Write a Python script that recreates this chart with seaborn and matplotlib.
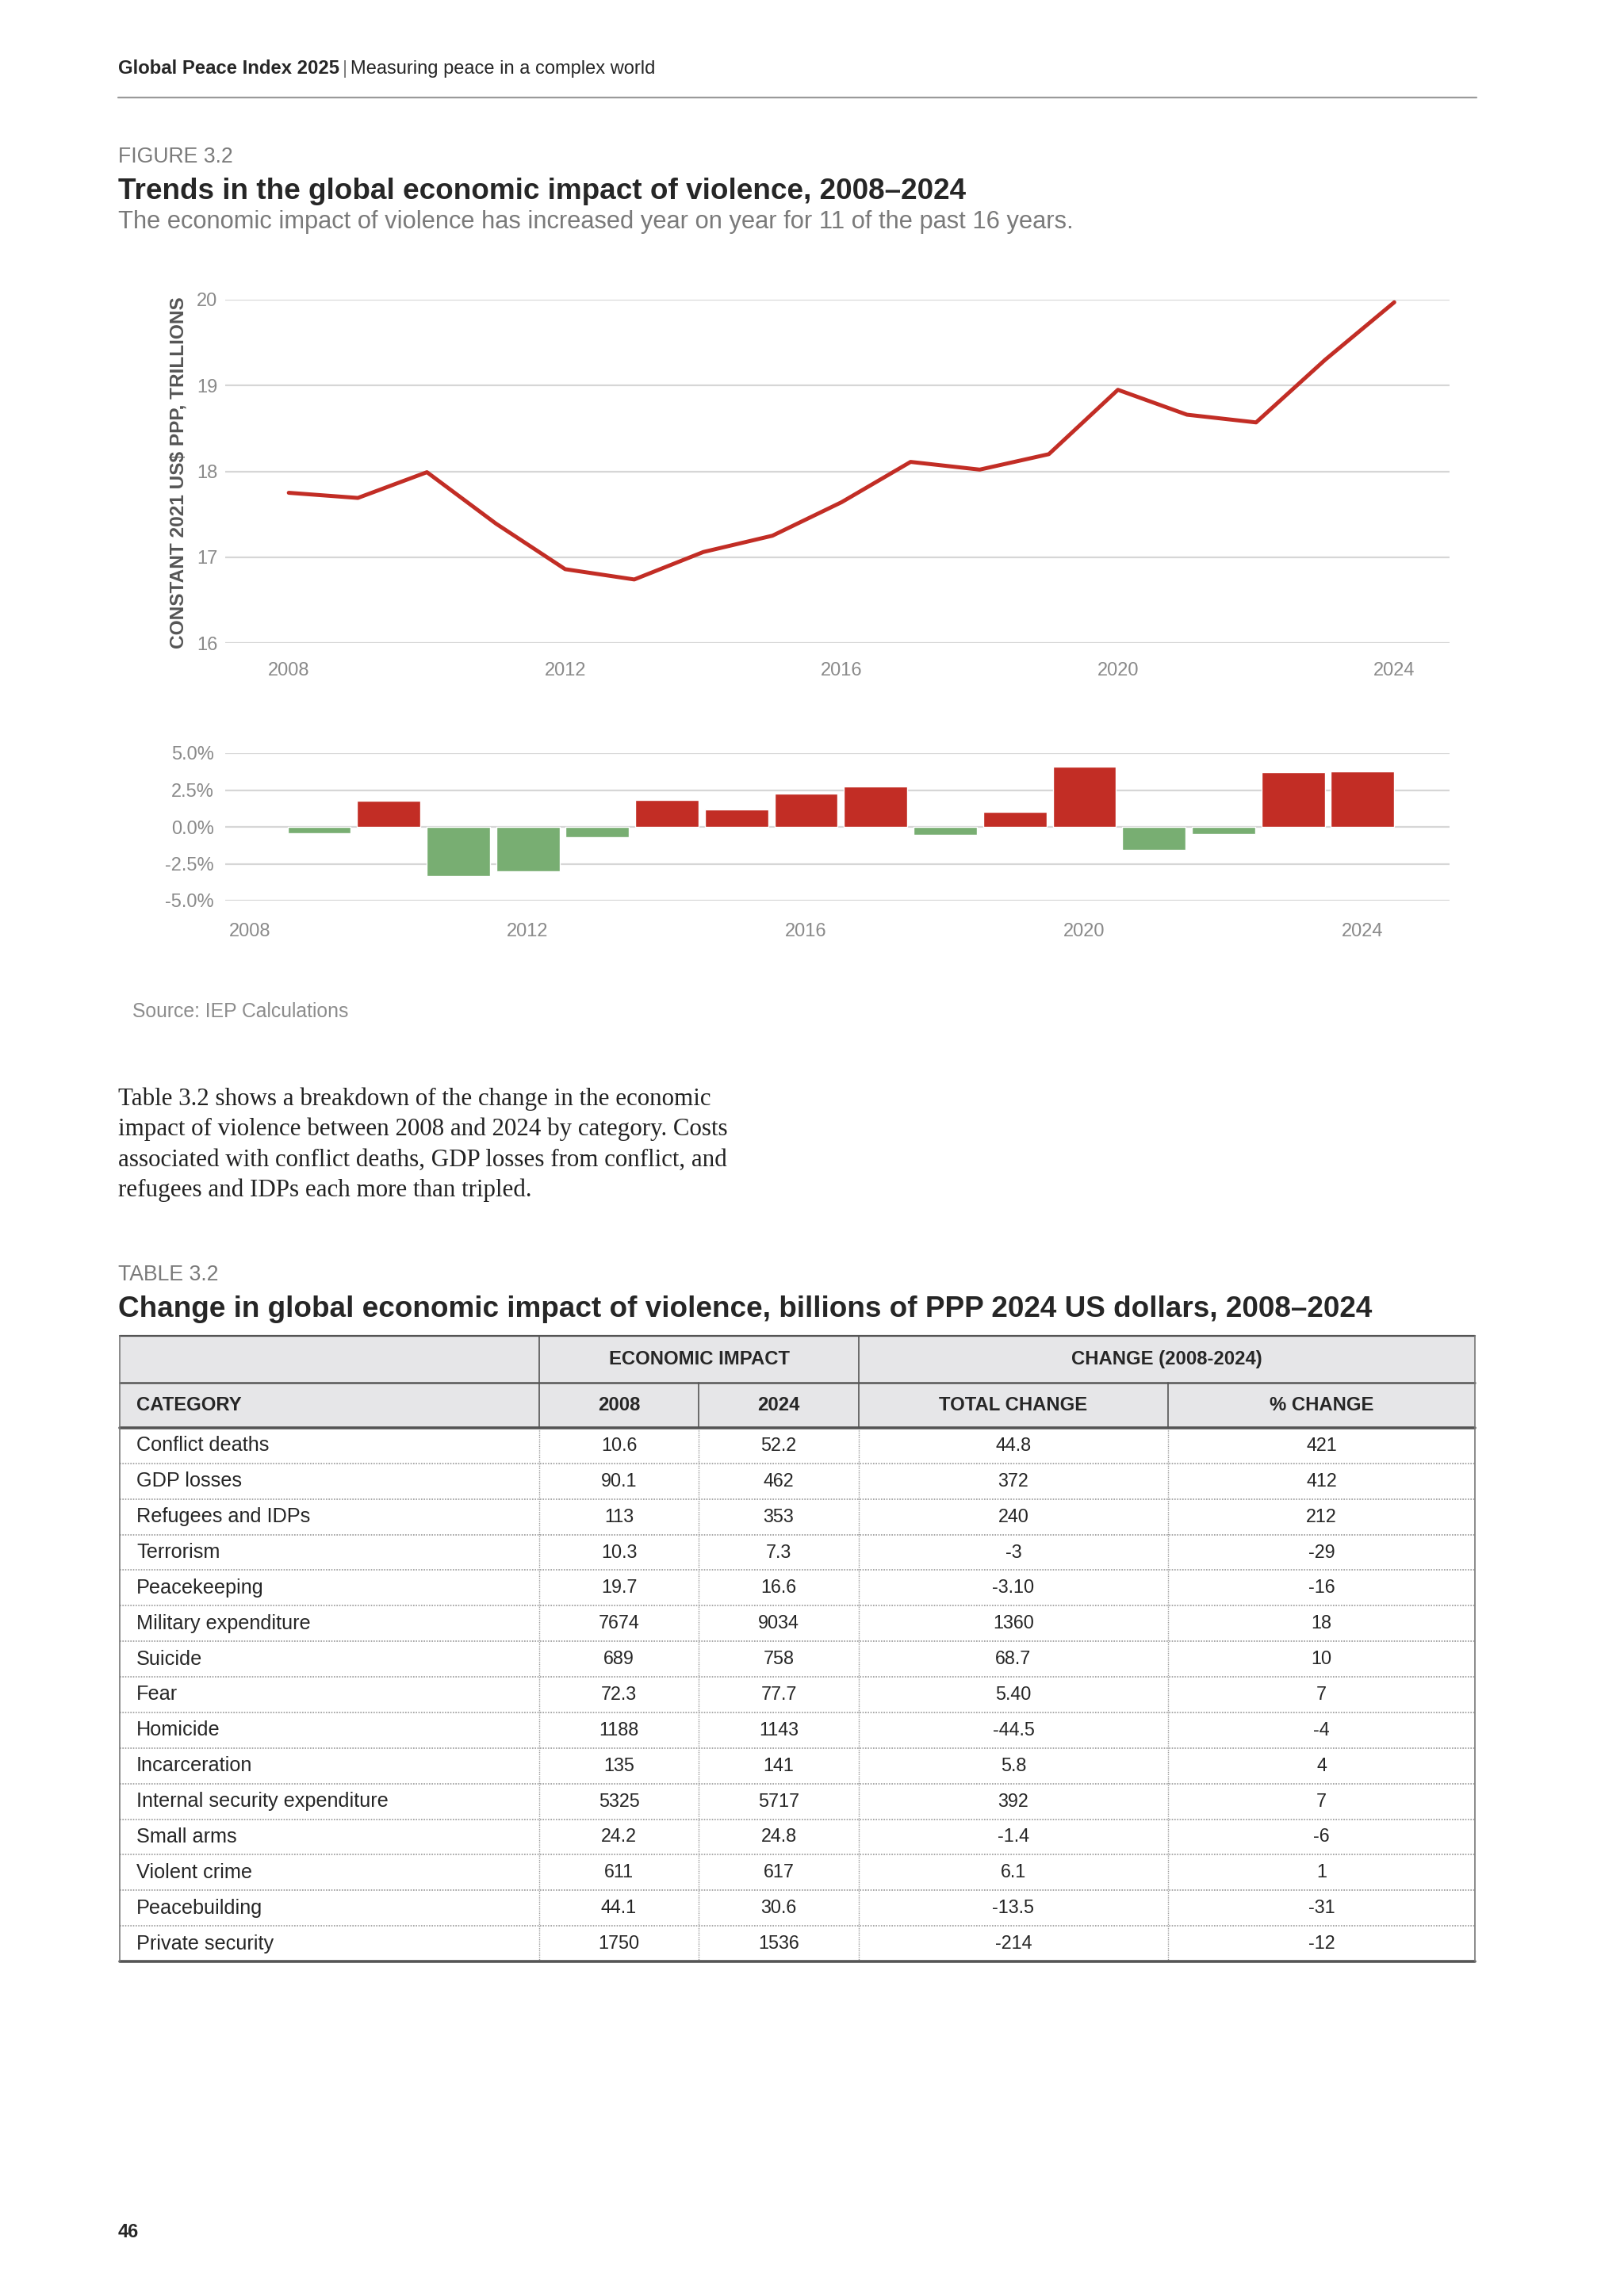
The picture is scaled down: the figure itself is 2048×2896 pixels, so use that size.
import matplotlib
matplotlib.use("Agg")
import matplotlib.pyplot as plt
from matplotlib.patches import Rectangle
import pandas as pd
import seaborn as sns

# line chart: economic impact of violence, constant 2021 US$ PPP trillions
years = list(range(2008, 2025))
impact_trillions = [17.75, 17.69, 17.99, 17.39, 16.86, 16.74, 17.06, 17.25, 17.64,
                    18.11, 18.02, 18.20, 18.95, 18.66, 18.57, 19.30, 19.97]

# bar chart: year on year change (%)
change_years = list(range(2009, 2025))
change_pct = [-0.43, 1.76, -3.35, -3.01, -0.72, 1.85, 1.18, 2.24, 2.72,
              -0.54, 1.04, 4.07, -1.56, -0.47, 3.69, 3.75]

line_yticks = [16, 17, 18, 19, 20]
bar_yticks = [-5, -2.5, 0, 2.5, 5]
bar_ylabels = ["-5.0%", "-2.5%", "0.0%", "2.5%", "5.0%"]
xtick_years = [2008, 2012, 2016, 2020, 2024]

# table 3.2
categories = ["Conflict deaths", "GDP losses", "Refugees and IDPs", "Terrorism",
              "Peacekeeping", "Military expenditure", "Suicide", "Fear", "Homicide",
              "Incarceration", "Internal security expenditure", "Small arms",
              "Violent crime", "Peacebuilding", "Private security"]
impact_2008 = ["10.6", "90.1", "113", "10.3", "19.7", "7674", "689", "72.3", "1188",
               "135", "5325", "24.2", "611", "44.1", "1750"]
impact_2024 = ["52.2", "462", "353", "7.3", "16.6", "9034", "758", "77.7", "1143",
               "141", "5717", "24.8", "617", "30.6", "1536"]
total_change = ["44.8", "372", "240", "-3", "-3.10", "1360", "68.7", "5.40", "-44.5",
                "5.8", "392", "-1.4", "6.1", "-13.5", "-214"]
pct_change = ["421", "412", "212", "-29", "-16", "18", "10", "7", "-4", "4", "7",
              "-6", "1", "-31", "-12"]

paragraph = ["Table 3.2 shows a breakdown of the change in the economic",
             "impact of violence between 2008 and 2024 by category. Costs",
             "associated with conflict deaths, GDP losses from conflict, and",
             "refugees and IDPs each more than tripled."]

RED = "#c22d25"
GREEN = "#78ae72"
GRID = "#d6d6d6"
TICK = "#8a8a8a"

sns.set_style("white")
plt.rcParams["font.family"] = ["Liberation Sans", "DejaVu Sans"]
plt.rcParams["axes.unicode_minus"] = False

W, H = 2048, 2896
fig = plt.figure(figsize=(W / 100, H / 100), dpi=100)


def box(x0, y0, x1, y1):
    # pixel box (top-left origin) -> figure fraction rect
    return [x0 / W, 1 - y1 / H, (x1 - x0) / W, (y1 - y0) / H]


# page overlay for text and the table
page = fig.add_axes([0, 0, 1, 1], zorder=0)
page.set_xlim(0, W)
page.set_ylim(H, 0)
page.axis("off")

# header
t = page.text(149, 93, "Global Peace Index 2025", fontsize=17.2, fontweight="bold", va="baseline")
fig.canvas.draw()
x_end = t.get_window_extent().x1
page.text(x_end + 4, 93, "|", fontsize=17, color="#777777", va="baseline")
page.text(x_end + 14, 93, "Measuring peace in a complex world", fontsize=17, va="baseline")
page.plot([149, 1862], [123, 123], color="#9a9a9a", lw=1.6)

page.text(149, 205, "FIGURE 3.2", fontsize=19.2, color="#7a7a7a", va="baseline")
page.text(149, 251, "Trends in the global economic impact of violence, 2008\u20132024",
          fontsize=26.6, fontweight="bold", va="baseline")
page.text(149, 288, "The economic impact of violence has increased year on year for 11 of the past 16 years.",
          fontsize=22.2, color="#7a7a7a", va="baseline")

# line chart
ax1 = fig.add_axes(box(284, 378, 1828, 811))
sns.lineplot(x=years, y=impact_trillions, color=RED, linewidth=3.6, ax=ax1)
ax1.set_xlim(2007.08, 2024.80)
ax1.set_ylim(16, 20)
ax1.set_yticks(line_yticks)
ax1.set_xticks(xtick_years)
ax1.yaxis.grid(True, color=GRID, lw=1.6)
ax1.xaxis.grid(False)
ax1.set_axisbelow(True)
sns.despine(ax=ax1, left=True, bottom=True)
ax1.tick_params(axis="y", length=0, pad=7, labelsize=17, labelcolor=TICK)
ax1.tick_params(axis="x", length=0, pad=17, labelsize=17, labelcolor=TICK)
ax1.set_xlabel("")
ax1.set_ylabel("")
ax1.patch.set_alpha(0)
fig.text(225 / W, 1 - 596 / H, "CONSTANT 2021 US$ PPP, TRILLIONS", rotation=90,
         fontsize=17.6, fontweight="bold", color="#555555", ha="center", va="center")

# bar chart
df = pd.DataFrame({"year": change_years, "change": change_pct})
df["direction"] = ["up" if v > 0 else "down" for v in df["change"]]
ax2 = fig.add_axes(box(284, 950, 1828, 1136))
sns.barplot(data=df, x="year", y="change", hue="direction",
            palette={"up": RED, "down": GREEN}, native_scale=True, dodge=False,
            width=0.91, saturation=1, legend=False, ax=ax2)
ax2.set_xlim(2007.65, 2025.25)
ax2.set_ylim(-5, 5)
ax2.set_yticks(bar_yticks)
ax2.set_yticklabels(bar_ylabels)
ax2.set_xticks(xtick_years)
ax2.set_xticklabels([str(y) for y in xtick_years])
ax2.yaxis.grid(True, color=GRID, lw=1.6)
ax2.xaxis.grid(False)
ax2.set_axisbelow(True)
sns.despine(ax=ax2, left=True, bottom=True)
ax2.tick_params(axis="y", length=0, pad=10, labelsize=17, labelcolor=TICK)
ax2.tick_params(axis="x", length=0, pad=20, labelsize=17, labelcolor=TICK)
ax2.set_xlabel("")
ax2.set_ylabel("")
ax2.patch.set_alpha(0)

page.text(167, 1276, "Source: IEP Calculations", fontsize=17.8, color="#8c8c8c", va="center")

# body paragraph
for i, line in enumerate(paragraph):
    page.text(149, 1394 + i * 38.2, line, fontsize=22.3, family=["Liberation Serif", "DejaVu Serif"],
              color="#222222", va="baseline")

page.text(149, 1615, "TABLE 3.2", fontsize=19.2, color="#7a7a7a", va="baseline")
page.text(149, 1661, "Change in global economic impact of violence, billions of PPP 2024 US dollars, 2008\u20132024",
          fontsize=26.6, fontweight="bold", va="baseline")

# table
cols = [151, 680, 881, 1083, 1473, 1860]
r0, r1, r2 = 1685, 1744, 1801
row_h = (2474 - r2) / len(categories)
r_end = r2 + row_h * len(categories)
page.add_patch(Rectangle((cols[0], r0), cols[-1] - cols[0], r2 - r0, facecolor="#e6e6e8",
                         edgecolor="none", zorder=0))
for y, lw in [(r0, 1.6), (r1, 1.8), (r2, 2.6), (r_end, 2.6)]:
    page.plot([cols[0], cols[-1]], [y, y], color="#555555", lw=lw, zorder=3)
for x in [cols[0], cols[-1]]:
    page.plot([x, x], [r0, r_end], color="#777777", lw=1.2, zorder=3)
for x in [cols[1], cols[3]]:
    page.plot([x, x], [r0, r2], color="#555555", lw=1.2, zorder=3)
for x in [cols[2], cols[4]]:
    page.plot([x, x], [r1, r2], color="#555555", lw=1.2, zorder=3)
for x in cols[1:-1]:
    page.plot([x, x], [r2, r_end], color="#9a9a9a", lw=1.0, ls=(0, (1, 1)), zorder=2)
for i in range(1, len(categories)):
    y = r2 + i * row_h
    page.plot([cols[0], cols[-1]], [y, y], color="#9a9a9a", lw=1.2, ls=(0, (1, 1)), zorder=2)

page.text((cols[1] + cols[3]) / 2, (r0 + r1) / 2, "ECONOMIC IMPACT", fontsize=17.2,
          fontweight="bold", ha="center", va="center")
page.text((cols[3] + cols[5]) / 2, (r0 + r1) / 2, "CHANGE (2008-2024)", fontsize=17.2,
          fontweight="bold", ha="center", va="center")
page.text(172, (r1 + r2) / 2, "CATEGORY", fontsize=17.2, fontweight="bold", va="center")
for j, label in enumerate(["2008", "2024", "TOTAL CHANGE", "% CHANGE"]):
    page.text((cols[j + 1] + cols[j + 2]) / 2, (r1 + r2) / 2, label, fontsize=17.2,
              fontweight="bold", ha="center", va="center")

for i, cat in enumerate(categories):
    yc = r2 + (i + 0.5) * row_h
    page.text(172, yc, cat, fontsize=18.2, va="center")
    vals = [impact_2008[i], impact_2024[i], total_change[i], pct_change[i]]
    for j, v in enumerate(vals):
        page.text((cols[j + 1] + cols[j + 2]) / 2, yc, v, fontsize=16.8, ha="center", va="center")

page.text(149, 2822, "46", fontsize=17, fontweight="bold", va="baseline")

fig.savefig("out.png", dpi=100)
